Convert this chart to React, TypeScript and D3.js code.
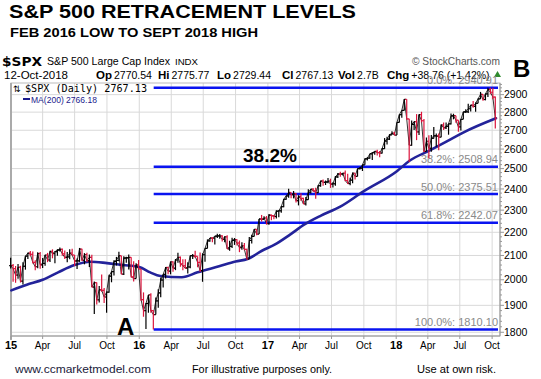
import React from 'react';
import * as d3 from 'd3';

// Weekly S&P 500 bars (week ending Fridays, starting 2015-01-02)
const close15 = [2058,2045,2019,2051,1995,2055,2097,2110,2105,2071,2053,2108,2061,2067,2102,2081,2117,2108,2116,2123,2126,2107,2092,2094,2110,2102,2077,2077,2127,2080,2104,2078,2092,1971,1989,1921,1961,1958,1932,1951,2015,2033,2075,2079,2099,2023,2089,2090,2092,2012,2005,2061];
const high15 = [2090,2064,2056,2064,2057,2072,2097,2111,2119,2117,2080,2114,2115,2089,2103,2111,2120,2126,2118,2126,2134,2130,2121,2115,2126,2129,2102,2087,2132,2129,2110,2112,2104,2103,1993,1981,1975,2021,1967,1953,2020,2034,2080,2094,2116,2094,2097,2095,2104,2093,2076,2067];
const low15 = [2046,1992,1988,2004,1989,1981,2041,2085,2097,2066,2039,2047,2045,2048,2057,2072,2073,2088,2067,2099,2117,2099,2085,2072,2084,2100,2056,2044,2073,2077,2063,2073,2052,1970,1867,1903,1911,1953,1909,1872,1949,1990,2017,2058,2076,2022,2019,2070,2042,2009,1993,2005];

const close16 = [2044,1922,1880,1907,1940,1880,1865,1917,1948,1999,2022,2050,2035,2073,2047,2081,2092,2065,2057,2047,2052,2099,2099,2096,2071,2037,2103,2130,2162,2175,2174,2183,2184,2184,2169,2180,2128,2139,2165,2168,2153,2133,2141,2126,2085,2164,2182,2213,2192,2260,2258,2264,2239];
const high16 = [2081,2038,1950,1909,1940,1947,1881,1930,1962,2009,2022,2052,2053,2075,2076,2085,2111,2096,2084,2084,2072,2100,2106,2120,2096,2113,2109,2131,2169,2175,2178,2183,2194,2193,2187,2183,2187,2163,2176,2175,2169,2164,2156,2153,2128,2179,2189,2214,2214,2260,2278,2272,2273];
const low16 = [2043,1918,1857,1812,1872,1872,1810,1865,1891,1931,1969,2005,2022,2022,2033,2039,2070,2053,2039,2045,2025,2047,2085,2089,2051,2032,1992,2074,2135,2159,2156,2147,2175,2172,2160,2157,2128,2120,2132,2145,2142,2114,2124,2122,2084,2092,2151,2183,2187,2193,2248,2258,2234];

const close17 = [2277,2275,2271,2295,2297,2316,2351,2367,2383,2373,2378,2344,2363,2355,2329,2349,2384,2399,2391,2382,2416,2439,2432,2433,2438,2423,2425,2459,2473,2472,2477,2441,2426,2443,2477,2461,2500,2502,2519,2549,2553,2575,2581,2588,2582,2579,2602,2642,2652,2675,2684,2674];
const high17 = [2282,2280,2277,2300,2299,2319,2352,2367,2401,2383,2390,2381,2370,2379,2358,2362,2398,2399,2403,2406,2418,2440,2446,2441,2453,2450,2433,2463,2478,2484,2478,2491,2474,2455,2480,2471,2500,2508,2520,2552,2557,2576,2582,2589,2597,2590,2605,2658,2665,2679,2695,2692];
const low17 = [2233,2254,2258,2262,2267,2288,2313,2348,2358,2355,2355,2335,2322,2344,2328,2322,2352,2378,2386,2353,2380,2410,2415,2419,2428,2405,2407,2416,2453,2459,2466,2437,2425,2418,2428,2446,2474,2496,2488,2520,2541,2550,2544,2571,2566,2557,2577,2601,2624,2648,2676,2673];

const close18 = [2743,2786,2810,2873,2762,2620,2732,2747,2691,2786,2752,2588,2641,2604,2656,2670,2670,2663,2728,2713,2721,2735,2779,2780,2755,2718,2760,2801,2802,2819,2840,2833,2850,2875,2902,2872,2905,2930,2914,2886,2767];
const high18 = [2743,2787,2811,2873,2870,2763,2754,2747,2789,2787,2802,2761,2661,2673,2675,2718,2683,2682,2733,2743,2742,2737,2792,2791,2775,2748,2762,2802,2816,2848,2841,2863,2855,2877,2916,2903,2906,2941,2940,2940,2889];
const low18 = [2683,2742,2768,2809,2759,2533,2617,2701,2647,2675,2743,2585,2594,2553,2586,2660,2612,2594,2662,2702,2707,2676,2731,2760,2741,2692,2699,2767,2795,2795,2803,2825,2802,2854,2885,2864,2867,2886,2903,2874,2710];

// 200-day moving average
const maDates = ["2015-01-02","2015-02-15","2015-04-01","2015-05-15","2015-07-01","2015-08-15","2015-10-01","2015-11-15","2016-01-01","2016-02-01","2016-03-01","2016-05-01","2016-06-15","2016-08-15","2016-10-01","2016-11-04","2016-12-15","2017-01-20","2017-03-05","2017-04-15","2017-06-01","2017-07-26","2017-09-30","2018-01-03","2018-02-09","2018-04-08","2018-05-25","2018-07-12","2018-10-12"];
const maValues = [1958,1980,2000,2030,2060,2074,2068,2060,2052,2030,2015,2010,2030,2055,2075,2085,2120,2146,2190,2235,2275,2316,2388,2487,2541,2594,2640,2689,2766];

const fibNames = ["0.0%","38.2%","50.0%","61.8%","100.0%"];
const fibValues = [2940.91,2508.94,2375.51,2242.07,1810.10];

const yTicks = [1800,1900,2000,2100,2200,2300,2400,2500,2600,2700,2800,2900];
const xTickDates = ["2015-01-01","2015-04-01","2015-07-01","2015-10-01","2016-01-01","2016-04-01","2016-07-01","2016-10-01","2017-01-01","2017-04-01","2017-07-01","2017-10-01","2018-01-01","2018-04-01","2018-07-01","2018-10-01"];
const xTickLabels = ["15","Apr","Jul","Oct","16","Apr","Jul","Oct","17","Apr","Jul","Oct","18","Apr","Jul","Oct"];

const FONT = "'Liberation Sans', Arial, sans-serif";

export default function App() {
  const W = 541, H = 379;
  const L = 11, R = 500, T = 83, B = 336;
  const x = d3.scaleUtc()
    .domain([new Date(Date.UTC(2015, 0, 1)), new Date(Date.UTC(2018, 9, 12))])
    .range([11, 496]);
  const y = d3.scaleLog().domain([1786.6, 2968.6]).range([B, T]);

  const closes = [...close15, ...close16, ...close17, ...close18];
  const highs = [...high15, ...high16, ...high17, ...high18];
  const lows = [...low15, ...low16, ...low17, ...low18];
  const start = Date.UTC(2015, 0, 2);
  const bars = closes.map((c, i) => {
    const o = i > 0 ? closes[i - 1] : c;
    const d = new Date(start + (i * 7 - 2) * 86400000);
    return { d, o, c, h: Math.max(highs[i], o, c), l: Math.min(lows[i], o, c), up: c >= o };
  });

  const maPts = maDates.map((d, i) => [x(new Date(d + "T00:00:00Z")), y(maValues[i])] as [number, number]);
  const maPath = d3.line().curve(d3.curveMonotoneX)(maPts) || "";
  const closePath = d3.line().curve(d3.curveLinear)(bars.map((b) => [x(b.d), y(b.c)] as [number, number])) || "";

  const minorTicks: number[] = [];
  for (let v = 1800; v <= 2960; v += 20) if (v % 100 !== 0) minorTicks.push(v);

  const fibX0 = x(new Date(Date.UTC(2016, 1, 11)));
  const fibX1 = 498;

  const gray = "#d9d9d9";

  return (
    <svg width={W} height={H} style={{ position: 'absolute', left: 0, top: 0, background: '#fff' }} fontFamily={FONT}>
      <rect x={0} y={0} width={W} height={H} fill="#fff" />
      {/* Title */}
      <text x={9} y={18} fontSize={18} fontWeight="bold" textLength={347} lengthAdjust="spacingAndGlyphs">S&amp;P 500 RETRACEMENT LEVELS</text>
      <text x={10} y={37} fontSize={12} fontWeight="bold" textLength={248} lengthAdjust="spacingAndGlyphs">FEB 2016 LOW TO SEPT 2018 HIGH</text>

      {/* Header */}
      <text x={2} y={65.5} fontSize={12} fontWeight="bold" fontFamily="'DejaVu Sans', Verdana, sans-serif" textLength={40} lengthAdjust="spacingAndGlyphs">$SPX</text>
      <text x={47} y={65} fontSize={11} textLength={123} lengthAdjust="spacingAndGlyphs">S&amp;P 500 Large Cap Index</text>
      <text x={175} y={65} fontSize={9} textLength={23} lengthAdjust="spacingAndGlyphs">INDX</text>
      <text x={412} y={65} fontSize={11} fill="#555" textLength={88} lengthAdjust="spacingAndGlyphs">© StockCharts.com</text>
      <text x={4} y={78.5} fontSize={10.5} textLength={64} lengthAdjust="spacingAndGlyphs">12-Oct-2018</text>
      {[
        { x: 96, k: "Op", v: "2770.54" },
        { x: 158, k: "Hi", v: "2775.77" },
        { x: 217, k: "Lo", v: "2729.44" },
        { x: 282, k: "Cl", v: "2767.13" },
        { x: 338, k: "Vol", v: "2.7B" },
        { x: 387, k: "Chg", v: "+38.76 (+1.42%)" },
      ].map((p) => (
        <text key={p.k} x={p.x} y={78.5} fontSize={10.5}>
          <tspan fontWeight="bold" fontSize={11.5}>{p.k}</tspan>
          <tspan dx={2}>{p.v}</tspan>
        </text>
      ))}
      <path d="M494,77 L497.5,71 L501,77 Z" fill="#2e8b2e" />
      <text x={513} y={77} fontSize={24} fontWeight="bold">B</text>

      {/* Grid */}
      {yTicks.map((v) => (
        <line key={"gy" + v} x1={L} x2={R} y1={y(v)} y2={y(v)} stroke={gray} strokeWidth={1} />
      ))}
      {xTickDates.map((d, i) => {
        const xx = x(new Date(d + "T00:00:00Z"));
        return <line key={"gx" + i} x1={xx} x2={xx} y1={T} y2={B} stroke={gray} strokeWidth={1} />;
      })}
      <rect x={L} y={T} width={R - L} height={B - T} fill="none" stroke="#bbb" strokeWidth={1} />
      <line x1={L} x2={L} y1={T} y2={B + 4} stroke="#aaa" strokeWidth={2} />

      {/* Legend */}
      <text x={13} y={92} fontSize={9} fontFamily="'DejaVu Sans', sans-serif">⇅</text>
      <text x={25} y={92} fontSize={10} fontFamily="'DejaVu Sans Mono', monospace" textLength={122} lengthAdjust="spacingAndGlyphs">$SPX (Daily) 2767.13</text>
      <line x1={23} x2={30} y1={99} y2={99} stroke="#1a1a8c" strokeWidth={2} />
      <text x={31} y={102.5} fontSize={9.5} fill="#1a1a8c" textLength={66} lengthAdjust="spacingAndGlyphs">MA(200) 2766.18</text>

      {/* Fib lines */}
      {fibValues.map((v, i) => (
        <g key={"fib" + i}>
          <line x1={fibX0} x2={fibX1} y1={y(v)} y2={y(v)} stroke="#0a14f0" strokeWidth={2.5} />
          <text x={498} y={y(v) - 3.5} fontSize={11} fill="#8a8a8a" textAnchor="end">{fibNames[i] + ": " + v.toFixed(2)}</text>
        </g>
      ))}

      {/* MA line */}
      <path d={maPath} fill="none" stroke="#23239a" strokeWidth={2.6} strokeLinejoin="round" strokeLinecap="round" />

      {/* Price bars */}
      <path d={closePath} fill="none" stroke="#000" strokeWidth={0.8} />
      {bars.map((b, i) => {
        const xx = x(b.d);
        const col = b.up ? "#000" : "#dc143c";
        return (
          <g key={"b" + i} stroke={col} strokeWidth={1.2}>
            <line x1={xx} x2={xx} y1={y(b.h)} y2={y(b.l)} />
            <line x1={xx - 1.5} x2={xx} y1={y(b.o)} y2={y(b.o)} />
            <line x1={xx} x2={xx + 1.5} y1={y(b.c)} y2={y(b.c)} />
          </g>
        );
      })}

      {/* Annotations */}
      <text x={243} y={162} fontSize={19} fontWeight="bold">38.2%</text>
      <text x={117} y={335} fontSize={24} fontWeight="bold">A</text>

      {/* Right axis */}
      <line x1={R} x2={R} y1={T} y2={B} stroke="#999" strokeWidth={1} />
      {minorTicks.map((v) => (
        <line key={"mt" + v} x1={R} x2={R + 2} y1={y(v)} y2={y(v)} stroke="#999" />
      ))}
      {yTicks.map((v) => (
        <g key={"yt" + v}>
          <line x1={R} x2={R + 4} y1={y(v)} y2={y(v)} stroke="#999" />
          <text x={504} y={y(v)} dy="0.35em" fontSize={10.5}>{v}</text>
        </g>
      ))}

      {/* Bottom axis */}
      <line x1={L} x2={R} y1={B} y2={B} stroke="#999" />
      {xTickDates.map((d, i) => {
        const xx = x(new Date(d + "T00:00:00Z"));
        const yr = i % 4 === 0;
        return (
          <g key={"xt" + i}>
            <line x1={xx} x2={xx} y1={B} y2={B + 3} stroke="#999" />
            <text x={xx} y={348.5} fontSize={yr ? 11 : 10} fontWeight={yr ? "bold" : "normal"} textAnchor="middle">{xTickLabels[i]}</text>
          </g>
        );
      })}

      {/* Footer */}
      <text x={15} y={373} fontSize={11} fill="#1a1a3a" textLength={136} lengthAdjust="spacingAndGlyphs">www.ccmarketmodel.com</text>
      <text x={192} y={373} fontSize={11} textLength={140} lengthAdjust="spacingAndGlyphs">For illustrative purposes only.</text>
      <text x={417} y={373} fontSize={11} textLength={79} lengthAdjust="spacingAndGlyphs">Use at own risk.</text>
    </svg>
  );
}
